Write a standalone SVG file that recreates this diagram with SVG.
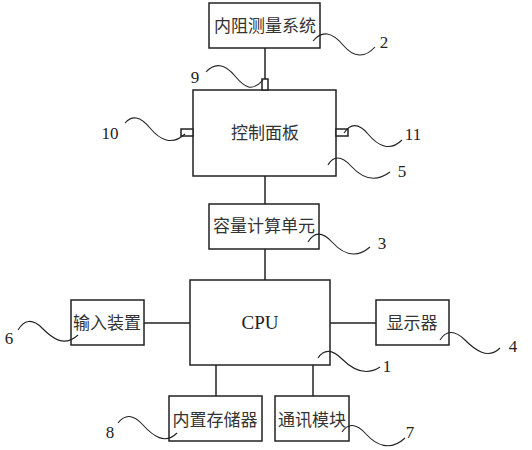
<svg xmlns="http://www.w3.org/2000/svg" width="532" height="450" viewBox="0 0 532 450">
<style>
.box{fill:#fff;stroke:#222;stroke-width:1.5}
.ln{fill:none;stroke:#222;stroke-width:1.5}
.ld{fill:none;stroke:#222;stroke-width:1.1}
.cn{font-family:"Noto Sans CJK SC","Noto Sans",sans-serif;font-size:17px;fill:#333;text-anchor:middle}
.num{font-family:"Liberation Serif",serif;font-size:17px;fill:#222;text-anchor:middle}
.en{font-family:"Liberation Serif",serif;font-size:19px;fill:#222;text-anchor:middle}
</style>
<rect width="532" height="450" fill="#fff"/>
<g id="connectors">
<line class="ln" x1="265" y1="48" x2="265" y2="90"/>
<line class="ln" x1="265" y1="176" x2="265" y2="204"/>
<line class="ln" x1="265" y1="249" x2="265" y2="280"/>
<line class="ln" x1="144" y1="323" x2="190" y2="323"/>
<line class="ln" x1="330" y1="323" x2="376" y2="323"/>
<line class="ln" x1="216" y1="365" x2="216" y2="396"/>
<line class="ln" x1="313" y1="365" x2="313" y2="396"/>
</g>
<g id="node2"><rect class="box" x="209" y="3" width="111" height="45"/><text class="cn" x="265" y="32">内阻测量系统</text></g>
<g id="node5"><rect class="box" x="193" y="90" width="143" height="86"/><text class="cn" x="265" y="139">控制面板</text></g>
<g id="node9"><rect class="box" x="262" y="79" width="6" height="11"/></g>
<g id="node10"><rect class="box" x="181" y="129" width="12" height="7"/></g>
<g id="node11"><rect class="box" x="336" y="129" width="12" height="7"/></g>
<g id="node3"><rect class="box" x="209" y="204" width="110" height="45"/><text class="cn" x="264" y="232">容量计算单元</text></g>
<g id="node1"><rect class="box" x="190" y="280" width="140" height="85"/><text class="en" x="260" y="329">CPU</text></g>
<g id="node6"><rect class="box" x="71" y="300" width="73" height="45"/><text class="cn" x="107" y="329">输入装置</text></g>
<g id="node4"><rect class="box" x="376" y="300" width="73" height="45"/><text class="cn" x="412" y="329">显示器</text></g>
<g id="node8"><rect class="box" x="169" y="396" width="93" height="45"/><text class="cn" x="215" y="426">内置存储器</text></g>
<g id="node7"><rect class="box" x="275" y="396" width="74" height="45"/><text class="cn" x="312" y="426">通讯模块</text></g>
<g id="leaders">
<path class="ld" d="M313,41 C322,30 332,32 343,45 S365,58 375,47"/>
<path class="ld" d="M206,72 C215,62 225,64 235,76 S252,92 263,80"/>
<path class="ld" d="M125,123 C132,115 140,116 150,128 S172,146 185,134"/>
<path class="ld" d="M344,133 C350,124 358,122 368,134 S390,152 402,140"/>
<path class="ld" d="M328,165 C333,156 341,155 351,166 S374,184 390,172"/>
<path class="ld" d="M308,242 C314,232 322,231 332,242 S355,260 370,247"/>
<path class="ld" d="M18,330 C24,320 32,318 42,328 S64,348 78,335"/>
<path class="ld" d="M440,340 C446,330 455,330 465,340 S488,360 500,348"/>
<path class="ld" d="M318,358 C324,349 332,349 342,359 S365,377 380,367"/>
<path class="ld" d="M118,423 C125,414 133,414 143,425 S165,445 177,433"/>
<path class="ld" d="M342,432 C348,423 356,423 366,434 S390,452 405,438"/>
</g>
<g id="labels">
<text class="num" x="384" y="48">2</text>
<text class="num" x="195" y="83">9</text>
<text class="num" x="110" y="139">10</text>
<text class="num" x="413" y="140">11</text>
<text class="num" x="402" y="177">5</text>
<text class="num" x="382" y="249">3</text>
<text class="num" x="9" y="344">6</text>
<text class="num" x="513" y="352">4</text>
<text class="num" x="387" y="372">1</text>
<text class="num" x="110" y="438">8</text>
<text class="num" x="410" y="438">7</text>
</g>
</svg>
